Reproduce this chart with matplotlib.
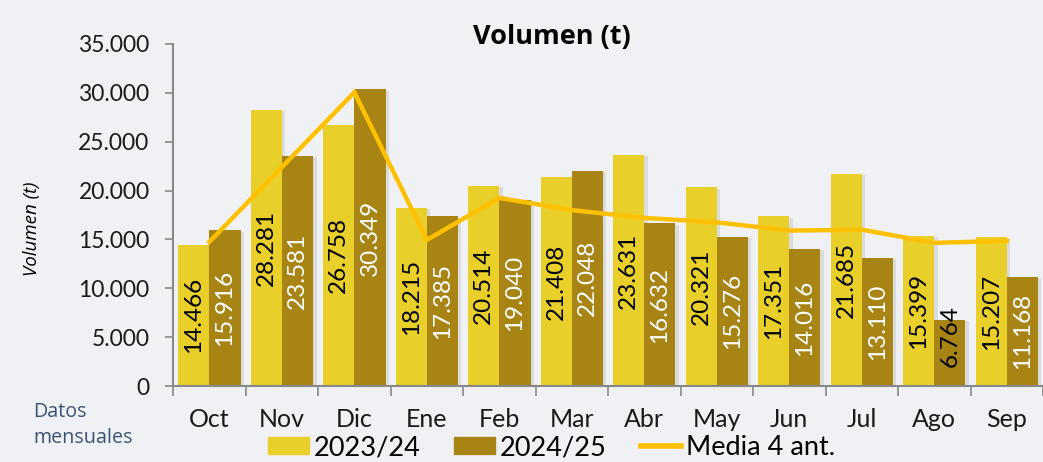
import numpy as np
from matplotlib import pyplot as plt
from matplotlib import patheffects as pe
from matplotlib.patches import Patch
from matplotlib.lines import Line2D

# datos mensuales
meses = ['Oct', 'Nov', 'Dic', 'Ene', 'Feb', 'Mar', 'Abr', 'May', 'Jun', 'Jul', 'Ago', 'Sep']
vol_2324 = [14466, 28281, 26758, 18215, 20514, 21408, 23631, 20321, 17351, 21685, 15399, 15207]
vol_2425 = [15916, 23581, 30349, 17385, 19040, 22048, 16632, 15276, 14016, 13110, 6764, 11168]
media_4ant = [14750, 22400, 30050, 14950, 19250, 18000, 17200, 16750, 15900, 16000, 14650, 14850]

c_claro = '#E9CF2A'
c_oscuro = '#A88414'
c_media = '#FFC000'
fondo = '#F0F1F4'

plt.rcParams['font.family'] = ['Lato', 'DejaVu Sans']


def miles(v):
    # separador de miles con punto
    return f"{v:,.0f}".replace(',', '.')


fig = plt.figure(figsize=(10.43, 4.62), dpi=100)
fig.patch.set_facecolor(fondo)
ax = fig.add_axes([0.166, 0.1645, 0.834, 0.7403])
ax.set_facecolor('none')

x = np.arange(len(meses))
w = 0.43
sombra = [pe.SimplePatchShadow(offset=(2.5, -1), shadow_rgbFace='#9a9a9a', alpha=0.25), pe.Normal()]
b1 = ax.bar(x - w / 2, vol_2324, w, color=c_claro, zorder=2)
b2 = ax.bar(x + w / 2, vol_2425, w, color=c_oscuro, zorder=2)
for b in list(b1) + list(b2):
    b.set_path_effects(sombra)
ax.plot(x[:len(media_4ant)], media_4ant, color=c_media, lw=3.2, zorder=3,
        solid_joinstyle='miter')

# etiquetas verticales centradas en cada barra
for i in range(len(meses)):
    v = vol_2324[i]
    ax.text(x[i] - w / 2, max(v / 2, 5100), miles(v), rotation=90, ha='center',
            va='center', fontsize=17.5, color='black', zorder=4)
    v = vol_2425[i]
    col = 'white' if v > 9000 else 'black'
    ax.text(x[i] + w / 2, max(v / 2, 5100), miles(v), rotation=90, ha='center',
            va='center', fontsize=17.5, color=col, zorder=4)

ax.set_xlim(-0.5, 11.5)
ax.set_ylim(0, 35000)
ax.set_yticks(range(0, 35001, 5000))
ax.set_yticklabels([miles(v) for v in range(0, 35001, 5000)], fontsize=16.5, color='#1a1a1a')
ax.set_xticks(x)
ax.set_xticklabels(meses, fontsize=18, color='#1a1a1a')
ax.set_xticks(np.arange(-0.5, 12, 1), minor=True)
ax.tick_params(axis='x', which='major', length=0, pad=16)
ax.tick_params(axis='x', which='minor', length=7, color='#888888', width=1.2)
ax.tick_params(axis='y', length=6, color='#888888', width=1.2, pad=11)
for s in ['top', 'right']:
    ax.spines[s].set_visible(False)
for s in ['left', 'bottom']:
    ax.spines[s].set_color('#888888')
    ax.spines[s].set_linewidth(1.5)

ax.set_ylabel('Volumen (t)', fontsize=13.5, style='italic', family=['Open Sans', 'DejaVu Sans'])
ax.yaxis.set_label_coords(-0.152, 0.46)
fig.text(0.529, 0.905, 'Volumen (t)', fontsize=19.5, fontweight='bold', ha='center',
         family=['Open Sans', 'DejaVu Sans'])
fig.text(0.032, 0.08, 'Datos\nmensuales', fontsize=14.2, color='#3B5274',
         linespacing=1.45, va='center', family=['Open Sans', 'DejaVu Sans'])

handles = [Patch(color=c_claro), Patch(color=c_oscuro),
           Line2D([], [], color=c_media, lw=4)]
fig.legend(handles, ['2023/24', '2024/25', 'Media 4 ant.'], ncol=3, frameon=False,
           loc='center', bbox_to_anchor=(0.529, 0.031), fontsize=19.5, handlelength=1.5,
           handleheight=0.6, handletextpad=0.18, columnspacing=1.25, borderpad=0)

plt.savefig('out.png', facecolor=fondo)
